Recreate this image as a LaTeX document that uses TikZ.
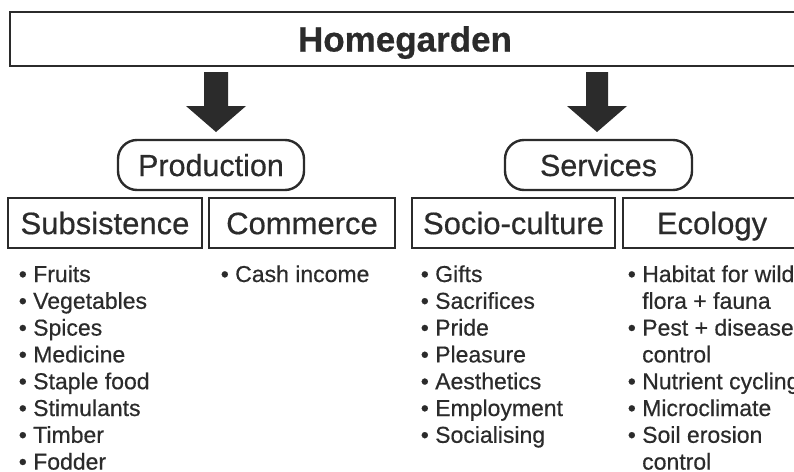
\documentclass[tikz,border=0pt]{standalone}
\usepackage{fontspec}
\setmainfont{Liberation Sans}[FakeBold=0.5]
\newfontfamily\headfont{Liberation Sans}[FakeBold=1.2]
\definecolor{ink}{HTML}{2B2B2B}
\begin{document}
\begin{tikzpicture}[x=1pt,y=-1pt,
  box/.style={draw=ink, line width=2.6pt, inner sep=0pt, text=ink, text depth=0pt},
  hdr/.style={box, minimum height=50pt, text height=22.3pt, font=\fontsize{31}{36}\selectfont},
  pill/.style={box, rounded corners=19pt, line width=2.4pt, minimum height=50pt, text height=22pt, font=\fontsize{30.5}{36}\selectfont},
  item/.style={anchor=base west, inner sep=0pt, text=ink, font=\fontsize{23}{27}\selectfont},
  blockarrow/.style={fill=ink}]
\useasboundingbox (0,0) rectangle (794,471);
\clip (0,0) rectangle (794,471);
\fill[white] (0,0) rectangle (794,471);

% top box
\node[box, minimum width=790pt, minimum height=54pt, text height=25pt, font=\fontsize{35}{40}\selectfont\bfseries] (home) at (405,39) {Homegarden};

% second level
\node[pill, minimum width=186pt] (prod) at (211,165) {Production};
\node[pill, minimum width=187pt] (serv) at (598.5,165) {Services};

% block arrows
\coordinate (a1) at (216,72);
\coordinate (a2) at (597,72);
\fill[blockarrow, shift={(a1)}] (-12,0) -- (12,0) -- (12,34) -- (30,34) -- (0,60) -- (-30,34) -- (-12,34) -- cycle;
\fill[blockarrow, shift={(a2)}] (-11,0) -- (11,0) -- (11,34) -- (30,34) -- (0,60) -- (-30,34) -- (-11,34) -- cycle;

% header boxes
\node[hdr, minimum width=194pt] (subs) at (105,223) {Subsistence};
\node[hdr, minimum width=186pt] (comm) at (302,223) {Commerce};
\node[hdr, minimum width=203pt] (soc) at (513.5,223) {Socio-culture};
\node[hdr, minimum width=178pt] (eco) at (712,223) {Ecology};

% lists
\foreach \t [count=\i from 0] in {Fruits,Vegetables,Spices,Medicine,Staple food,Stimulants,Timber,Fodder}
  \node[item] (s\i) at (18.6,{282+26.8*\i}) {• \t};
\node[item] (c0) at (220.6,282) {• Cash income};
\foreach \t [count=\i from 0] in {Gifts,Sacrifices,Pride,Pleasure,Aesthetics,Employment,Socialising}
  \node[item] (o\i) at (420.6,{282+26.8*\i}) {• \t};
\node[item] (e0) at (627.6,282) {• Habitat for wild};
\node[item] (e1) at (642,308.8) {flora + fauna};
\node[item] (e2) at (627.6,335.6) {• Pest + disease};
\node[item] (e3) at (642,362.4) {control};
\node[item] (e4) at (627.6,389.2) {• Nutrient cycling};
\node[item] (e5) at (627.6,416) {• Microclimate};
\node[item] (e6) at (627.6,442.8) {• Soil erosion};
\node[item] (e7) at (642,469.6) {control};
\end{tikzpicture}
\end{document}
